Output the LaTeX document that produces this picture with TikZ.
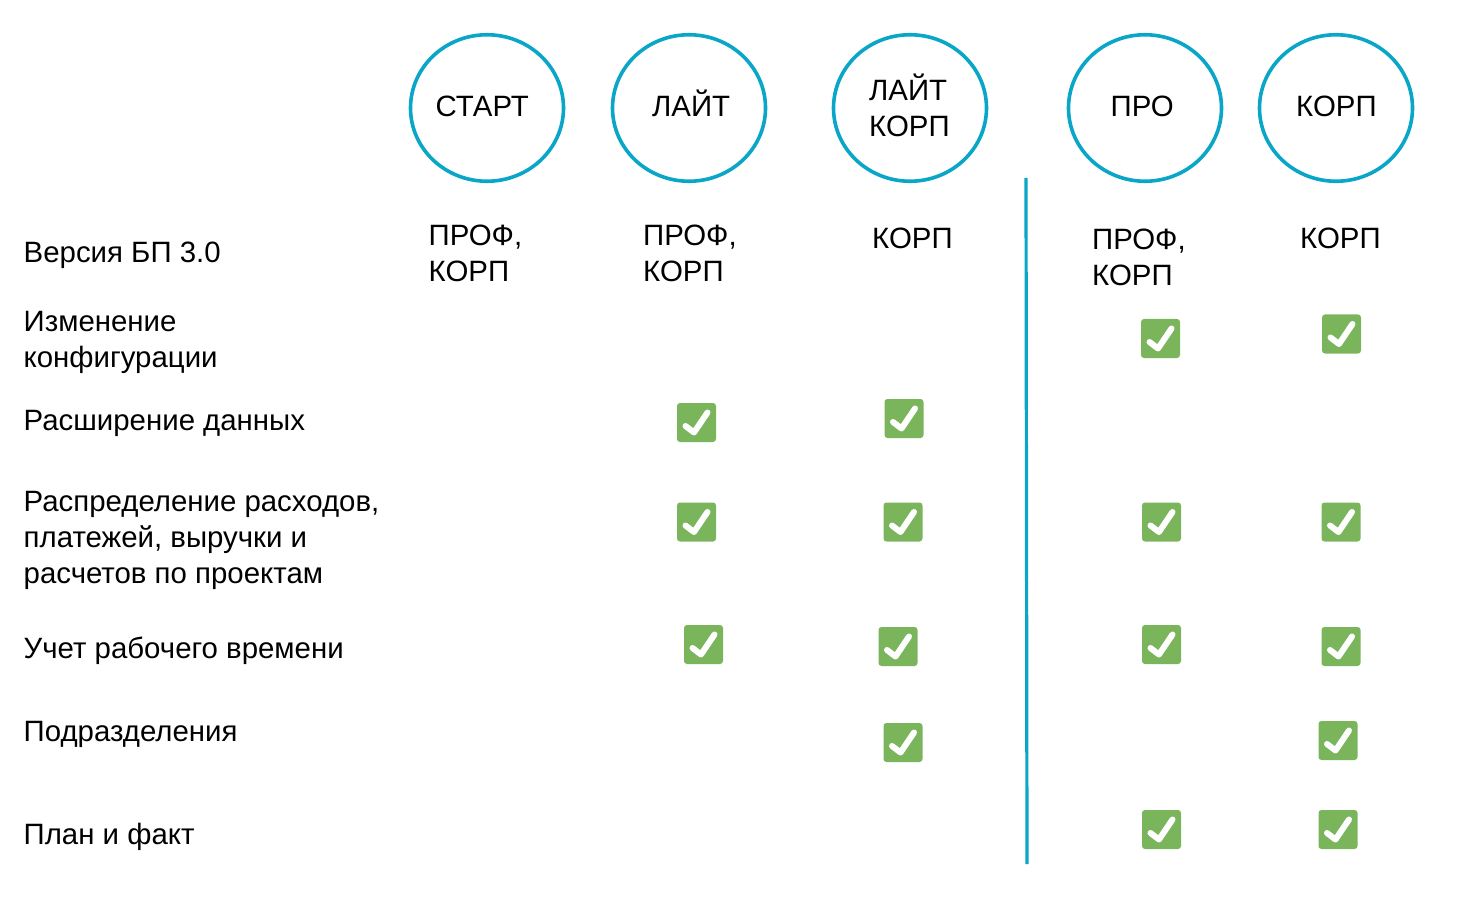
\documentclass[tikz,border=0pt]{standalone}
\usepackage{fontspec}
\setmainfont{Liberation Sans}
\usetikzlibrary{shapes.geometric}
\definecolor{planblue}{HTML}{0AA6C8}
\definecolor{okgreen}{HTML}{7AB55C}
\tikzset{
    plan/.style={ellipse,draw=planblue,line width=3.6pt,minimum width=153pt,minimum height=146.5pt,inner sep=0pt},
    txt/.style={anchor=base west,inner sep=0pt,align=left,font=\fontsize{29.4}{36}\selectfont},
    okbox/.style={rectangle,rounded corners=3pt,fill=okgreen,minimum size=39pt,inner sep=0pt,
        path picture={\draw[white,line width=6pt,line cap=round,line join=round,sharp corners]
            ([shift={(-11pt,-3.5pt)}]path picture bounding box.center) -- ++(8.5pt,-6.5pt) -- ++(13.5pt,20pt);}}
}
\begin{document}
\begin{tikzpicture}[x=1pt,y=-1pt]
    \useasboundingbox (0,0) rectangle (1467,901);

    \node[plan] (start) at (487,108) {};
    \node[plan] (lite) at (689,108) {};
    \node[plan] (litecorp) at (910,108) {};
    \node[plan] (pro) at (1145,108) {};
    \node[plan] (corp) at (1336,108) {};

    \node[txt] (startname) at (435.5,117) {СТАРТ};
    \node[txt] (litename) at (652,117) {ЛАЙТ};
    \node[txt] (litecorpname) at (869,137) {ЛАЙТ\\КОРП};
    \node[txt] (proname) at (1110.5,117) {ПРО};
    \node[txt] (corpname) at (1296,117) {КОРП};

    \coordinate (top) at (1026,178);
    \coordinate (bottom) at (1027,864);
    \draw[planblue,line width=3.2pt] (top) -- (bottom);

    \node[txt] (ver0) at (428.5,282) {ПРОФ,\\КОРП};
    \node[txt] (ver1) at (643,282) {ПРОФ,\\КОРП};
    \node[txt] (ver2) at (872,249) {КОРП};
    \node[txt] (ver3) at (1092,286) {ПРОФ,\\КОРП};
    \node[txt] (ver4) at (1300,249) {КОРП};

    \node[txt] (row0) at (23.5,263) {Версия БП 3.0};
    \node[txt] (row1) at (23.5,367) {Изменение\\конфигурации};
    \node[txt] (row2) at (23.5,430) {Расширение данных};
    \node[txt] (row3) at (23.5,583) {Распределение расходов,\\платежей, выручки и\\расчетов по проектам};
    \node[txt] (row4) at (23.5,658) {Учет рабочего времени};
    \node[txt] (row5) at (23.5,741) {Подразделения};
    \node[txt] (row6) at (23.5,844) {План и факт};

    \node[okbox] (ok13) at (1160.5,338.5) {};
    \node[okbox] (ok14) at (1341.5,334) {};
    \node[okbox] (ok21) at (696.5,422.5) {};
    \node[okbox] (ok22) at (904,418.5) {};
    \node[okbox] (ok31) at (696.5,522) {};
    \node[okbox] (ok32) at (903,522) {};
    \node[okbox] (ok33) at (1161.5,522) {};
    \node[okbox] (ok34) at (1341,522) {};
    \node[okbox] (ok41) at (703.5,644.5) {};
    \node[okbox] (ok42) at (898,646.5) {};
    \node[okbox] (ok43) at (1161.5,644.5) {};
    \node[okbox] (ok44) at (1341,646.5) {};
    \node[okbox] (ok52) at (903,742.5) {};
    \node[okbox] (ok54) at (1338,740.5) {};
    \node[okbox] (ok63) at (1161.5,829.5) {};
    \node[okbox] (ok64) at (1338,829.5) {};
\end{tikzpicture}
\end{document}
